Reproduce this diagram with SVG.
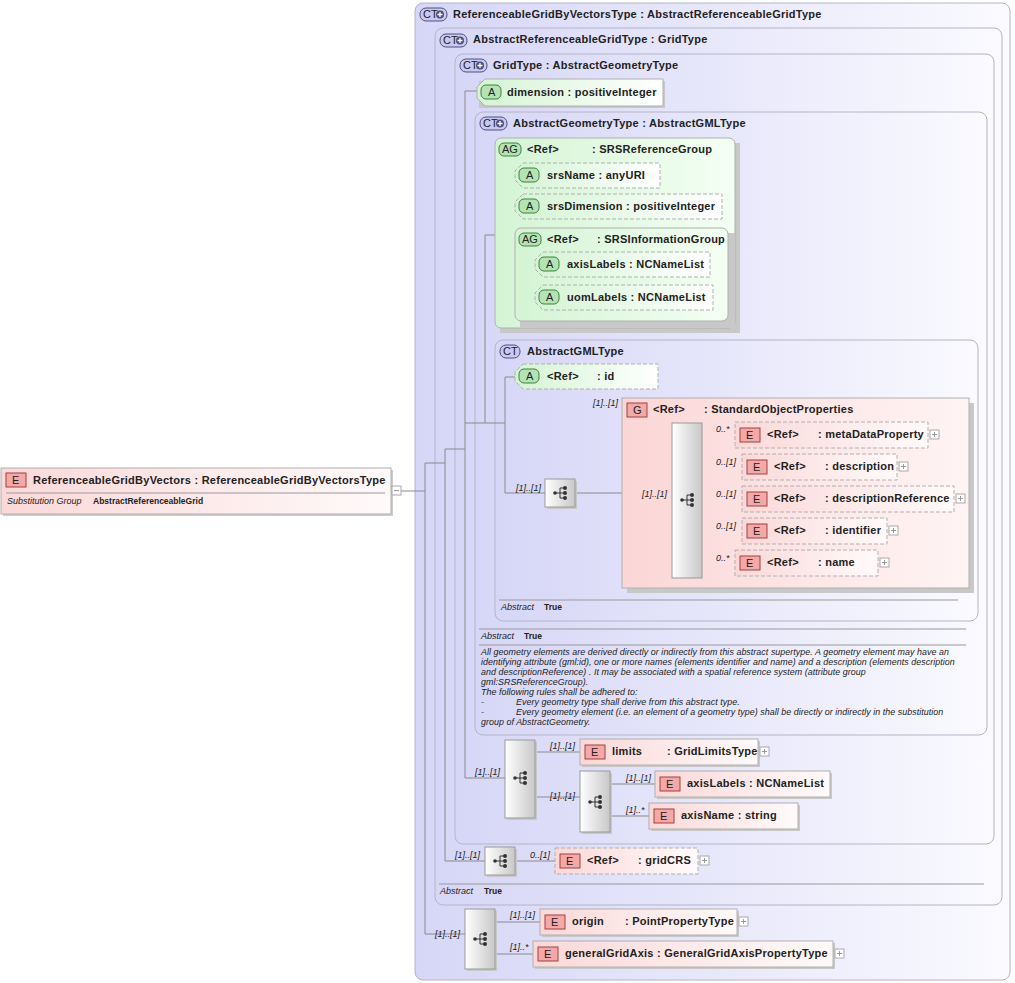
<svg xmlns="http://www.w3.org/2000/svg" width="1015" height="983" viewBox="0 0 1015 983">
<defs>
<linearGradient id="gC" x1="0" x2="1" y1="0" y2="0"><stop offset="0" stop-color="#d6d6f7"/><stop offset="1" stop-color="#fafaff"/></linearGradient>
<linearGradient id="gE" x1="0" x2="1"><stop offset="0" stop-color="#fbd8d8"/><stop offset="1" stop-color="#fffafa"/></linearGradient>
<linearGradient id="gG" x1="0" x2="1"><stop offset="0" stop-color="#fbd6d6"/><stop offset="1" stop-color="#fff4f4"/></linearGradient>
<linearGradient id="gA" x1="0" x2="1"><stop offset="0" stop-color="#d4f4d4"/><stop offset="1" stop-color="#ffffff"/></linearGradient>
<linearGradient id="gAG" x1="0" x2="1"><stop offset="0" stop-color="#d4f4d4"/><stop offset="1" stop-color="#f4fff4"/></linearGradient>
<linearGradient id="gS" x1="0" x2="1"><stop offset="0" stop-color="#ffffff"/><stop offset="1" stop-color="#c8c8c8"/></linearGradient>
<g id="seqIcon"><circle cx="-5" cy="0" r="1.8" fill="#333"/><path d="M-5 0H0M0-5V5M0-5H4M0 0H4M0 5H4" stroke="#333" fill="none"/><circle cx="5" cy="-5" r="2" fill="#333"/><circle cx="5" cy="0" r="2" fill="#333"/><circle cx="5" cy="5" r="2" fill="#333"/></g>
<g id="plus"><rect x="0" y="0" width="9" height="9" fill="#fff" stroke="#aaa"/><path d="M2 4.5H7M4.5 2V7" stroke="#999"/></g>
<g id="ctp"><rect class="bC" x="0" y="0" width="27" height="13" rx="6"/><text x="3" y="10" font-size="9">CT</text><circle cx="20" cy="6.5" r="4" fill="#505080"/><path d="M17.5 6.5H22.5M20 4V9" stroke="#fff" stroke-width="1.3"/></g>
</defs>
<style>
text{font-family:"Liberation Sans",Arial,sans-serif;font-size:11px;fill:#222}
.b{font-weight:bold;letter-spacing:0.25px}
.m{font-size:9px;font-style:italic}
.s{font-size:9px;font-style:italic}
.sb{font-size:8.5px;font-weight:bold}
.c{fill:url(#gC);stroke:#b4b4c8}
.e{fill:url(#gE);stroke:#b0b0b0}
.ed{fill:url(#gE);stroke:#b0b0b0;stroke-dasharray:4 2}
.a{fill:url(#gA);stroke:#b0b0b0}
.ad{fill:url(#gA);stroke:#b0b0b0;stroke-dasharray:4 2}
.seq{fill:url(#gS);stroke:#999}
.sh{fill:#c8c8c8;stroke:none}
.bE{fill:#f4a8a8;stroke:#a04040}
.bA{fill:#b4e4b4;stroke:#408040}
.bC{fill:#c8c8f0;stroke:#505080}
.ln{stroke:#8a8a8a;fill:none}
.sep{stroke:#999}
.d{font-size:8.9px;font-style:italic;letter-spacing:0.05px}
</style>

<!-- containers -->
<g id="ct1"><rect class="c" x="415" y="3" width="595" height="977" rx="8"/><use href="#ctp" x="420" y="8"/><text class="b" x="453" y="18">ReferenceableGridByVectorsType : AbstractReferenceableGridType</text></g>
<g id="ct2"><rect class="c" x="435" y="28" width="567" height="877" rx="8"/><use href="#ctp" x="440" y="34"/><text class="b" x="473" y="43">AbstractReferenceableGridType : GridType</text><line class="sep" x1="439" y1="884" x2="984" y2="884"/><text class="s" x="440" y="894">Abstract</text><text class="sb" x="484" y="894">True</text></g>
<g id="ct3"><rect class="c" x="455" y="54" width="539" height="790" rx="8"/><use href="#ctp" x="460" y="59"/><text class="b" x="493" y="69">GridType : AbstractGeometryType</text></g>
<g id="ct4"><rect class="c" x="475" y="112" width="512" height="623" rx="8"/><use href="#ctp" x="480" y="117"/><text class="b" x="513" y="127">AbstractGeometryType : AbstractGMLType</text>
<line class="sep" x1="479" y1="629" x2="966" y2="629"/><text class="s" x="481" y="639">Abstract</text><text class="sb" x="524" y="639">True</text><line class="sep" x1="479" y1="645" x2="966" y2="645"/>
<text class="d" x="481" y="655">All geometry elements are derived directly or indirectly from this abstract supertype. A geometry element may have an</text>
<text class="d" x="481" y="665">identifying attribute (gml:id), one or more names (elements identifier and name) and a description (elements description</text>
<text class="d" x="481" y="675">and descriptionReference) . It may be associated with a spatial reference system (attribute group</text>
<text class="d" x="481" y="685">gml:SRSReferenceGroup).</text>
<text class="d" x="481" y="695">The following rules shall be adhered to:</text>
<text class="d" x="481" y="705">-</text><text class="d" x="516" y="705">Every geometry type shall derive from this abstract type.</text>
<text class="d" x="481" y="715">-</text><text class="d" x="516" y="715">Every geometry element (i.e. an element of a geometry type) shall be directly or indirectly in the substitution</text>
<text class="d" x="481" y="725">group of AbstractGeometry.</text></g>
<g id="ct5"><rect class="c" x="495" y="340" width="483" height="281" rx="8"/><rect class="bC" x="500" y="345" width="20" height="13" rx="6"/><text x="503" y="355" font-size="9">CT</text><text class="b" x="527" y="355">AbstractGMLType</text><line class="sep" x1="499" y1="600" x2="958" y2="600"/><text class="s" x="501" y="610">Abstract</text><text class="sb" x="544" y="610">True</text></g>

<!-- connectors -->
<g id="connectors">
<path class="ln" d="M401 491H425M425 463V934H465M425 463H445M445 449V861H485M445 449H465M465 91V778H505M465 91H477M465 423H485M485 235V423M485 235H495M485 423H505M505 377V493H545M505 377H515M575 493H672M702 435H735M702 467H742M702 499H742M702 531H742M702 563H735M505 176V275M505 176H515M505 207H515M505 275H525M525 264V297M525 264H535M525 297H535M535 752H580M535 797H580M610 784H655M610 816H649M515 861H555M495 922H540M495 954H533"/>
</g>

<!-- root -->
<g id="root"><rect x="3" y="470" width="390" height="46" fill="#ccc"/><rect class="e" x="1" y="468" width="390" height="46"/><rect class="bE" x="6" y="473" width="20" height="14"/><text x="12" y="484">E</text><text class="b" x="33" y="484">ReferenceableGridByVectors : ReferenceableGridByVectorsType</text><line class="sep" x1="6" y1="493" x2="385" y2="493"/><text class="s" x="7" y="504">Substitution Group</text><text class="sb" x="93" y="504">AbstractReferenceableGrid</text><rect x="392" y="486" width="9" height="9" fill="#fff" stroke="#aaa"/><path d="M394 490.5H399" stroke="#999"/></g>

<!-- attributes -->
<g id="dimension"><rect x="479" y="81" width="186" height="27" class="sh"/><path class="a" d="M485 79H663V106H485L477 98V87Z"/><rect class="bA" x="481" y="85" width="20" height="14" rx="5"/><text x="488" y="96">A</text><text class="b" x="507" y="96">dimension : positiveInteger</text></g>

<g id="srsRefGroup"><rect x="500" y="143" width="240" height="190" class="sh"/><rect x="495" y="138" width="240" height="190" rx="6" fill="url(#gAG)" stroke="#b0b0b0"/><rect class="bA" x="499" y="143" width="22" height="13" rx="5"/><text x="502" y="153" font-size="9">AG</text><text class="b" x="527" y="153">&lt;Ref&gt;</text><text class="b" x="592" y="153">: SRSReferenceGroup</text></g>
<g id="srsName"><path class="ad" d="M523 163H660V188H523L515 180V171Z"/><rect class="bA" x="519" y="168" width="20" height="14" rx="5"/><text x="526" y="179">A</text><text class="b" x="547" y="179">srsName : anyURI</text></g>
<g id="srsDimension"><path class="ad" d="M523 194H722V219H523L515 211V202Z"/><rect class="bA" x="519" y="199" width="20" height="14" rx="5"/><text x="526" y="210">A</text><text class="b" x="547" y="210">srsDimension : positiveInteger</text></g>
<g id="srsInfoGroup"><rect x="520" y="233" width="215" height="95" class="sh"/><rect x="515" y="228" width="213" height="93" rx="6" fill="url(#gAG)" stroke="#b0b0b0"/><rect class="bA" x="519" y="233" width="22" height="13" rx="5"/><text x="522" y="243" font-size="9">AG</text><text class="b" x="547" y="243">&lt;Ref&gt;</text><text class="b" x="597" y="243">: SRSInformationGroup</text></g>
<g id="axisLabelsA"><path class="ad" d="M543 252H710V277H543L535 269V260Z"/><rect class="bA" x="539" y="257" width="20" height="14" rx="5"/><text x="546" y="268">A</text><text class="b" x="567" y="268">axisLabels : NCNameList</text></g>
<g id="uomLabels"><path class="ad" d="M543 285H713V310H543L535 302V293Z"/><rect class="bA" x="539" y="290" width="20" height="14" rx="5"/><text x="546" y="301">A</text><text class="b" x="567" y="301">uomLabels : NCNameList</text></g>
<g id="id"><path class="ad" d="M523 364H658V389H523L515 381V372Z"/><rect class="bA" x="519" y="369" width="20" height="14" rx="5"/><text x="526" y="380">A</text><text class="b" x="547" y="380">&lt;Ref&gt;</text><text class="b" x="597" y="380">: id</text></g>

<!-- GML seq -->
<g id="seqGml"><rect x="547" y="481" width="30" height="28" class="sh"/><rect class="seq" x="545" y="479" width="30" height="28"/><use href="#seqIcon" x="560" y="493"/><text class="m" x="516" y="491">[1]..[1]</text></g>

<g id="stdObjProps"><rect x="627" y="403" width="347" height="190" class="sh"/><rect x="622" y="398" width="347" height="190" fill="url(#gG)" stroke="#b0b0b0"/><text class="m" x="593" y="406">[1]..[1]</text><rect class="bE" x="627" y="403" width="20" height="14"/><text x="633" y="414">G</text><text class="b" x="653" y="413">&lt;Ref&gt;</text><text class="b" x="704" y="413">: StandardObjectProperties</text>
<rect class="seq" x="672" y="423" width="30" height="155"/><use href="#seqIcon" x="687" y="500"/><text class="m" x="642" y="497">[1]..[1]</text></g>
<g id="metaDataProperty"><rect class="ed" x="735" y="422" width="193" height="26"/><rect class="bE" x="740" y="428" width="20" height="14"/><text x="746" y="439">E</text><text class="b" x="767" y="438">&lt;Ref&gt;</text><text class="b" x="818" y="438">: metaDataProperty</text><use href="#plus" x="930" y="430"/><text class="m" x="716" y="432">0..*</text></g>
<g id="description"><rect class="ed" x="742" y="454" width="155" height="26"/><rect class="bE" x="747" y="460" width="20" height="14"/><text x="753" y="471">E</text><text class="b" x="774" y="470">&lt;Ref&gt;</text><text class="b" x="825" y="470">: description</text><use href="#plus" x="899" y="462"/><text class="m" x="716" y="465">0..[1]</text></g>
<g id="descriptionReference"><rect class="ed" x="742" y="486" width="212" height="26"/><rect class="bE" x="747" y="492" width="20" height="14"/><text x="753" y="503">E</text><text class="b" x="774" y="502">&lt;Ref&gt;</text><text class="b" x="825" y="502">: descriptionReference</text><use href="#plus" x="956" y="494"/><text class="m" x="716" y="497">0..[1]</text></g>
<g id="identifier"><rect class="ed" x="742" y="518" width="145" height="26"/><rect class="bE" x="747" y="524" width="20" height="14"/><text x="753" y="535">E</text><text class="b" x="774" y="534">&lt;Ref&gt;</text><text class="b" x="825" y="534">: identifier</text><use href="#plus" x="889" y="526"/><text class="m" x="716" y="529">0..[1]</text></g>
<g id="name"><rect class="ed" x="735" y="550" width="143" height="26"/><rect class="bE" x="740" y="556" width="20" height="14"/><text x="746" y="567">E</text><text class="b" x="767" y="566">&lt;Ref&gt;</text><text class="b" x="818" y="566">: name</text><use href="#plus" x="880" y="558"/><text class="m" x="716" y="561">0..*</text></g>

<!-- grid type sequences -->
<g id="seqGrid"><rect x="507" y="742" width="30" height="78" class="sh"/><rect class="seq" x="505" y="740" width="30" height="78"/><use href="#seqIcon" x="520" y="778"/><text class="m" x="475" y="775">[1]..[1]</text></g>
<g id="limits"><rect x="582" y="741" width="178" height="26" class="sh"/><rect class="e" x="580" y="739" width="178" height="26"/><rect class="bE" x="585" y="745" width="20" height="14"/><text x="591" y="756">E</text><text class="b" x="612" y="755">limits</text><text class="b" x="667" y="755">: GridLimitsType</text><use href="#plus" x="760" y="747"/><text class="m" x="550" y="749">[1]..[1]</text></g>
<g id="seqAxis"><rect x="582" y="773" width="30" height="61" class="sh"/><rect class="seq" x="580" y="771" width="30" height="61"/><use href="#seqIcon" x="595" y="802"/><text class="m" x="550" y="799">[1]..[1]</text></g>
<g id="axisLabelsE"><rect x="657" y="773" width="175" height="26" class="sh"/><rect class="e" x="655" y="771" width="175" height="26"/><rect class="bE" x="660" y="777" width="20" height="14"/><text x="666" y="788">E</text><text class="b" x="687" y="787">axisLabels : NCNameList</text><text class="m" x="626" y="781">[1]..[1]</text></g>
<g id="axisName"><rect x="651" y="805" width="149" height="26" class="sh"/><rect class="e" x="649" y="803" width="149" height="26"/><rect class="bE" x="654" y="809" width="20" height="14"/><text x="660" y="820">E</text><text class="b" x="681" y="819">axisName : string</text><text class="m" x="626" y="813">[1]..*</text></g>

<g id="seqCRS"><rect x="487" y="849" width="30" height="28" class="sh"/><rect class="seq" x="485" y="847" width="30" height="28"/><use href="#seqIcon" x="500" y="861"/><text class="m" x="455" y="858">[1]..[1]</text></g>
<g id="gridCRS"><rect class="ed" x="555" y="848" width="143" height="26"/><rect class="bE" x="560" y="854" width="20" height="14"/><text x="566" y="865">E</text><text class="b" x="587" y="864">&lt;Ref&gt;</text><text class="b" x="638" y="864">: gridCRS</text><use href="#plus" x="700" y="856"/><text class="m" x="530" y="858">0..[1]</text></g>

<g id="seqTop"><rect x="467" y="911" width="30" height="60" class="sh"/><rect class="seq" x="465" y="909" width="30" height="60"/><use href="#seqIcon" x="480" y="939"/><text class="m" x="435" y="937">[1]..[1]</text></g>
<g id="origin"><rect x="542" y="911" width="197" height="26" class="sh"/><rect class="e" x="540" y="909" width="197" height="26"/><rect class="bE" x="545" y="915" width="20" height="14"/><text x="551" y="926">E</text><text class="b" x="572" y="925">origin</text><text class="b" x="625" y="925">: PointPropertyType</text><use href="#plus" x="739" y="917"/><text class="m" x="510" y="918">[1]..[1]</text></g>
<g id="generalGridAxis"><rect x="535" y="943" width="300" height="26" class="sh"/><rect class="e" x="533" y="941" width="300" height="26"/><rect class="bE" x="538" y="947" width="20" height="14"/><text x="544" y="958">E</text><text class="b" x="565" y="957">generalGridAxis : GeneralGridAxisPropertyType</text><use href="#plus" x="835" y="949"/><text class="m" x="510" y="950">[1]..*</text></g>
</svg>
